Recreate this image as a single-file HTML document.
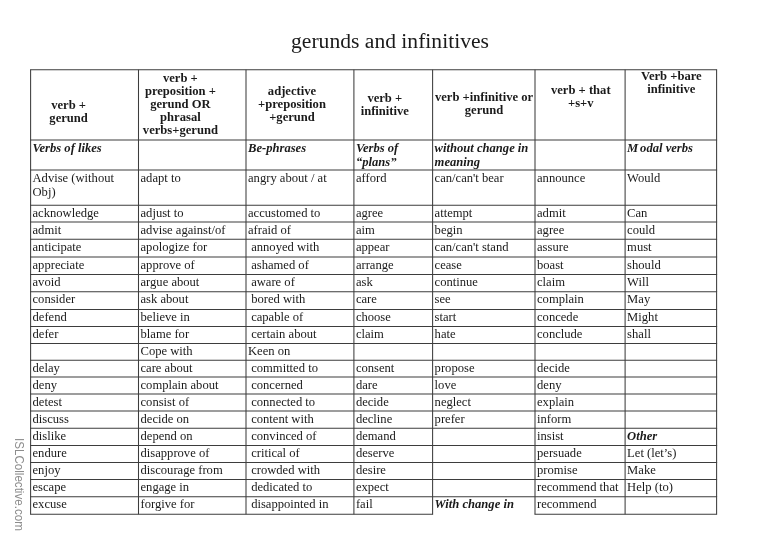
<!DOCTYPE html>
<html><head><meta charset="utf-8"><title>gerunds and infinitives</title>
<style>
html,body{margin:0;padding:0;background:#fff;}
body{width:766px;height:542px;position:relative;overflow:hidden;font-family:"Liberation Serif",serif;color:#1a1a1a;}
#grid{position:absolute;left:0;top:0;}
.t{position:absolute;white-space:pre;font-size:12.6px;line-height:14px;height:14px;}
.h{font-weight:bold;text-align:center;}
.bi{font-weight:bold;font-style:italic;}
#title{position:absolute;left:0;width:766px;text-align:center;white-space:pre;}
#wm{position:absolute;font-family:"Liberation Sans",sans-serif;color:#8c8c8c;white-space:pre;transform-origin:0 0;transform:rotate(90deg) scaleX(0.943);}
</style></head><body>

<svg id="grid" width="766" height="542" viewBox="0 0 766 542"><g stroke="#3d3d3d" stroke-width="1.05" fill="none"><line x1="30.1" y1="69.8" x2="717.1" y2="69.8"/><line x1="30.1" y1="139.9" x2="717.1" y2="139.9"/><line x1="30.1" y1="169.9" x2="717.1" y2="169.9"/><line x1="30.1" y1="205.2" x2="717.1" y2="205.2"/><line x1="30.1" y1="222.0" x2="717.1" y2="222.0"/><line x1="30.1" y1="239.3" x2="717.1" y2="239.3"/><line x1="30.1" y1="256.9" x2="717.1" y2="256.9"/><line x1="30.1" y1="274.4" x2="717.1" y2="274.4"/><line x1="30.1" y1="291.8" x2="717.1" y2="291.8"/><line x1="30.1" y1="309.4" x2="717.1" y2="309.4"/><line x1="30.1" y1="326.5" x2="717.1" y2="326.5"/><line x1="30.1" y1="343.4" x2="717.1" y2="343.4"/><line x1="30.1" y1="360.2" x2="717.1" y2="360.2"/><line x1="30.1" y1="376.9" x2="717.1" y2="376.9"/><line x1="30.1" y1="394.0" x2="717.1" y2="394.0"/><line x1="30.1" y1="411.0" x2="717.1" y2="411.0"/><line x1="30.1" y1="428.2" x2="717.1" y2="428.2"/><line x1="30.1" y1="445.4" x2="717.1" y2="445.4"/><line x1="30.1" y1="462.5" x2="717.1" y2="462.5"/><line x1="30.1" y1="479.5" x2="717.1" y2="479.5"/><line x1="30.1" y1="496.7" x2="717.1" y2="496.7"/><line x1="30.1" y1="514.2" x2="433.1" y2="514.2"/><line x1="534.5" y1="514.2" x2="717.1" y2="514.2"/><line x1="30.6" y1="69.8" x2="30.6" y2="514.2"/><line x1="138.5" y1="69.8" x2="138.5" y2="514.2"/><line x1="246.0" y1="69.8" x2="246.0" y2="514.2"/><line x1="353.9" y1="69.8" x2="353.9" y2="514.2"/><line x1="432.6" y1="69.8" x2="432.6" y2="514.2"/><line x1="535.0" y1="69.8" x2="535.0" y2="514.2"/><line x1="625.1" y1="69.8" x2="625.1" y2="514.2"/><line x1="716.6" y1="69.8" x2="716.6" y2="514.2"/></g></svg>
<div id="title" style="top:27.8px;font-size:21.6px;line-height:26px;left:7px">gerunds and infinitives</div>
<div class="t h" style="left:8.6px;width:120.0px;top:98.0px">verb +</div>
<div class="t h" style="left:8.6px;width:120.0px;top:111.0px">gerund</div>
<div class="t h" style="left:120.4px;width:120.0px;top:70.8px">verb +</div>
<div class="t h" style="left:120.4px;width:120.0px;top:83.8px">preposition +</div>
<div class="t h" style="left:120.4px;width:120.0px;top:96.8px">gerund OR</div>
<div class="t h" style="left:120.4px;width:120.0px;top:109.8px">phrasal</div>
<div class="t h" style="left:120.4px;width:120.0px;top:122.8px">verbs+gerund</div>
<div class="t h" style="left:232.0px;width:120.0px;top:84.2px">adjective</div>
<div class="t h" style="left:232.0px;width:120.0px;top:97.2px">+preposition</div>
<div class="t h" style="left:232.0px;width:120.0px;top:110.2px">+gerund</div>
<div class="t h" style="left:324.8px;width:120.0px;top:90.5px">verb +</div>
<div class="t h" style="left:324.8px;width:120.0px;top:103.5px">infinitive</div>
<div class="t h" style="left:424.0px;width:120.0px;top:90.3px">verb +infinitive or</div>
<div class="t h" style="left:424.0px;width:120.0px;top:103.3px">gerund</div>
<div class="t h" style="left:520.8px;width:120.0px;top:82.9px">verb + that</div>
<div class="t h" style="left:520.8px;width:120.0px;top:95.9px">+s+v</div>
<div class="t h" style="left:611.3px;width:120.0px;top:69.4px">Verb +bare</div>
<div class="t h" style="left:611.3px;width:120.0px;top:82.4px">infinitive</div>
<div class="t bi" style="left:32.5px;top:141.0px">Verbs of likes</div>
<div class="t bi" style="left:248.0px;top:141.0px">Be-phrases</div>
<div class="t bi" style="left:355.9px;top:141.0px">Verbs of</div>
<div class="t bi" style="left:355.9px;top:154.7px">“plans”</div>
<div class="t bi" style="left:434.6px;top:141.0px">without change in</div>
<div class="t bi" style="left:434.6px;top:154.7px">meaning</div>
<div class="t bi" style="left:627.1px;top:141.0px"><span style="letter-spacing:1.8px">M</span>odal verbs</div>
<div class="t" style="left:32.5px;top:170.5px">Advise (without</div>
<div class="t" style="left:32.5px;top:185.0px">Obj)</div>
<div class="t" style="left:140.5px;top:170.5px">adapt to</div>
<div class="t" style="left:248.0px;top:170.5px">angry about / at</div>
<div class="t" style="left:355.9px;top:170.5px">afford</div>
<div class="t" style="left:434.6px;top:170.5px">can/can&#x27;t bear</div>
<div class="t" style="left:537.0px;top:170.5px">announce</div>
<div class="t" style="left:627.1px;top:170.5px">Would</div>
<div class="t" style="left:32.5px;top:205.8px">acknowledge</div>
<div class="t" style="left:140.5px;top:205.8px">adjust to</div>
<div class="t" style="left:248.0px;top:205.8px">accustomed to</div>
<div class="t" style="left:355.9px;top:205.8px">agree</div>
<div class="t" style="left:434.6px;top:205.8px">attempt</div>
<div class="t" style="left:537.0px;top:205.8px">admit</div>
<div class="t" style="left:627.1px;top:205.8px">Can</div>
<div class="t" style="left:32.5px;top:222.6px">admit</div>
<div class="t" style="left:140.5px;top:222.6px">advise against/of</div>
<div class="t" style="left:248.0px;top:222.6px">afraid of</div>
<div class="t" style="left:355.9px;top:222.6px">aim</div>
<div class="t" style="left:434.6px;top:222.6px">begin</div>
<div class="t" style="left:537.0px;top:222.6px">agree</div>
<div class="t" style="left:627.1px;top:222.6px">could</div>
<div class="t" style="left:32.5px;top:239.9px">anticipate</div>
<div class="t" style="left:140.5px;top:239.9px">apologize for</div>
<div class="t" style="left:248.0px;top:239.9px"> annoyed with</div>
<div class="t" style="left:355.9px;top:239.9px">appear</div>
<div class="t" style="left:434.6px;top:239.9px">can/can&#x27;t stand</div>
<div class="t" style="left:537.0px;top:239.9px">assure</div>
<div class="t" style="left:627.1px;top:239.9px">must</div>
<div class="t" style="left:32.5px;top:257.5px">appreciate</div>
<div class="t" style="left:140.5px;top:257.5px">approve of</div>
<div class="t" style="left:248.0px;top:257.5px"> ashamed of</div>
<div class="t" style="left:355.9px;top:257.5px">arrange</div>
<div class="t" style="left:434.6px;top:257.5px">cease</div>
<div class="t" style="left:537.0px;top:257.5px">boast</div>
<div class="t" style="left:627.1px;top:257.5px">should</div>
<div class="t" style="left:32.5px;top:275.0px">avoid</div>
<div class="t" style="left:140.5px;top:275.0px">argue about</div>
<div class="t" style="left:248.0px;top:275.0px"> aware of</div>
<div class="t" style="left:355.9px;top:275.0px">ask</div>
<div class="t" style="left:434.6px;top:275.0px">continue</div>
<div class="t" style="left:537.0px;top:275.0px">claim</div>
<div class="t" style="left:627.1px;top:275.0px">Will</div>
<div class="t" style="left:32.5px;top:292.4px">consider</div>
<div class="t" style="left:140.5px;top:292.4px">ask about</div>
<div class="t" style="left:248.0px;top:292.4px"> bored with</div>
<div class="t" style="left:355.9px;top:292.4px">care</div>
<div class="t" style="left:434.6px;top:292.4px">see</div>
<div class="t" style="left:537.0px;top:292.4px">complain</div>
<div class="t" style="left:627.1px;top:292.4px">May</div>
<div class="t" style="left:32.5px;top:310.0px">defend</div>
<div class="t" style="left:140.5px;top:310.0px">believe in</div>
<div class="t" style="left:248.0px;top:310.0px"> capable of</div>
<div class="t" style="left:355.9px;top:310.0px">choose</div>
<div class="t" style="left:434.6px;top:310.0px">start</div>
<div class="t" style="left:537.0px;top:310.0px">concede</div>
<div class="t" style="left:627.1px;top:310.0px">Might</div>
<div class="t" style="left:32.5px;top:327.1px">defer</div>
<div class="t" style="left:140.5px;top:327.1px">blame for</div>
<div class="t" style="left:248.0px;top:327.1px"> certain about</div>
<div class="t" style="left:355.9px;top:327.1px">claim</div>
<div class="t" style="left:434.6px;top:327.1px">hate</div>
<div class="t" style="left:537.0px;top:327.1px">conclude</div>
<div class="t" style="left:627.1px;top:327.1px">shall</div>
<div class="t" style="left:140.5px;top:344.0px">Cope with</div>
<div class="t" style="left:248.0px;top:344.0px">Keen on</div>
<div class="t" style="left:32.5px;top:360.8px">delay</div>
<div class="t" style="left:140.5px;top:360.8px">care about</div>
<div class="t" style="left:248.0px;top:360.8px"> committed to</div>
<div class="t" style="left:355.9px;top:360.8px">consent</div>
<div class="t" style="left:434.6px;top:360.8px">propose</div>
<div class="t" style="left:537.0px;top:360.8px">decide</div>
<div class="t" style="left:32.5px;top:377.5px">deny</div>
<div class="t" style="left:140.5px;top:377.5px">complain about</div>
<div class="t" style="left:248.0px;top:377.5px"> concerned</div>
<div class="t" style="left:355.9px;top:377.5px">dare</div>
<div class="t" style="left:434.6px;top:377.5px">love</div>
<div class="t" style="left:537.0px;top:377.5px">deny</div>
<div class="t" style="left:32.5px;top:394.6px">detest</div>
<div class="t" style="left:140.5px;top:394.6px">consist of</div>
<div class="t" style="left:248.0px;top:394.6px"> connected to</div>
<div class="t" style="left:355.9px;top:394.6px">decide</div>
<div class="t" style="left:434.6px;top:394.6px">neglect</div>
<div class="t" style="left:537.0px;top:394.6px">explain</div>
<div class="t" style="left:32.5px;top:411.6px">discuss</div>
<div class="t" style="left:140.5px;top:411.6px">decide on</div>
<div class="t" style="left:248.0px;top:411.6px"> content with</div>
<div class="t" style="left:355.9px;top:411.6px">decline</div>
<div class="t" style="left:434.6px;top:411.6px">prefer</div>
<div class="t" style="left:537.0px;top:411.6px">inform</div>
<div class="t" style="left:32.5px;top:428.8px">dislike</div>
<div class="t" style="left:140.5px;top:428.8px">depend on</div>
<div class="t" style="left:248.0px;top:428.8px"> convinced of</div>
<div class="t" style="left:355.9px;top:428.8px">demand</div>
<div class="t" style="left:537.0px;top:428.8px">insist</div>
<div class="t bi" style="left:627.1px;top:428.8px">Other</div>
<div class="t" style="left:32.5px;top:446.0px">endure</div>
<div class="t" style="left:140.5px;top:446.0px">disapprove of</div>
<div class="t" style="left:248.0px;top:446.0px"> critical of</div>
<div class="t" style="left:355.9px;top:446.0px">deserve</div>
<div class="t" style="left:537.0px;top:446.0px">persuade</div>
<div class="t" style="left:627.1px;top:446.0px">Let (let’s)</div>
<div class="t" style="left:32.5px;top:463.1px">enjoy</div>
<div class="t" style="left:140.5px;top:463.1px">discourage from</div>
<div class="t" style="left:248.0px;top:463.1px"> crowded with</div>
<div class="t" style="left:355.9px;top:463.1px">desire</div>
<div class="t" style="left:537.0px;top:463.1px">promise</div>
<div class="t" style="left:627.1px;top:463.1px">Make</div>
<div class="t" style="left:32.5px;top:480.1px">escape</div>
<div class="t" style="left:140.5px;top:480.1px">engage in</div>
<div class="t" style="left:248.0px;top:480.1px"> dedicated to</div>
<div class="t" style="left:355.9px;top:480.1px">expect</div>
<div class="t" style="left:537.0px;top:480.1px">recommend that</div>
<div class="t" style="left:627.1px;top:480.1px">Help (to)</div>
<div class="t" style="left:32.5px;top:497.3px">excuse</div>
<div class="t" style="left:140.5px;top:497.3px">forgive for</div>
<div class="t" style="left:248.0px;top:497.3px"> disappointed in</div>
<div class="t" style="left:355.9px;top:497.3px">fail</div>
<div class="t bi" style="left:434.6px;top:497.3px">With change in</div>
<div class="t" style="left:537.0px;top:497.3px">recommend</div>
<div id="wm" style="left:25.3px;top:437.5px;font-size:12.3px;line-height:12px">ISLCollective.com</div>
</body></html>
